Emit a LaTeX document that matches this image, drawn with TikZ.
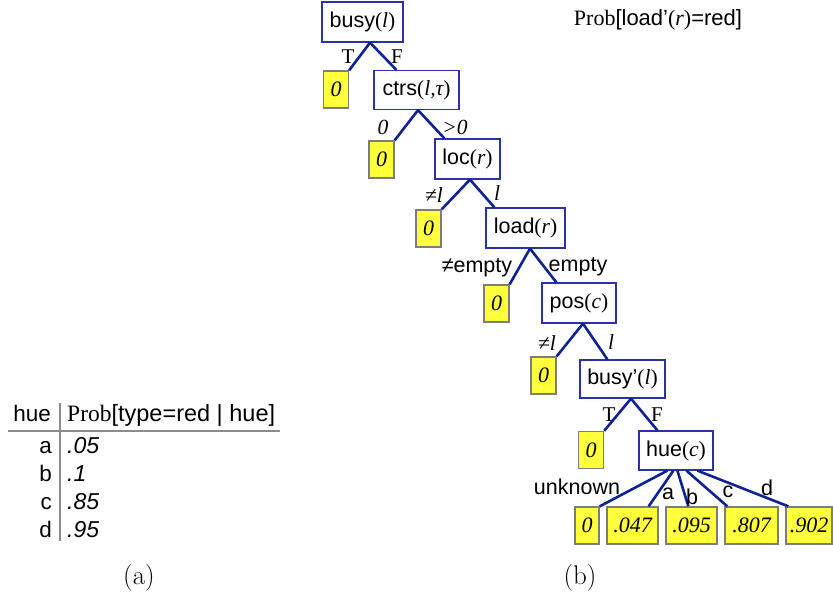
\documentclass[tikz,border=0pt]{standalone}
\usepackage{fontspec}
\newfontfamily\tmsf{Liberation Serif}
\newfontfamily\helf{Liberation Sans}
\usetikzlibrary{calc}
\definecolor{eblue}{RGB}{14,34,150}
\definecolor{bblue}{RGB}{40,52,165}
\definecolor{lyellow}{RGB}{255,255,60}
\definecolor{lgray}{RGB}{125,125,125}
\definecolor{rulegray}{RGB}{140,140,140}
\newcommand\targ[1]{{\tmsf(\itshape #1\upshape)}}
\tikzset{
  inode/.style={draw=bblue, line width=1.2pt, fill=white, minimum height=40pt, inner sep=0pt, font=\helf\fontsize{21.5}{21.5}\selectfont},
  leaf/.style={draw=lgray, line width=1.3pt, fill=lyellow, minimum width=25pt, minimum height=37pt, inner sep=0pt, font=\tmsf\itshape\fontsize{22}{22}\selectfont},
  edge/.style={draw=eblue, line width=2.6pt},
  tlab/.style={inner sep=0pt, font=\tmsf\fontsize{21}{21}\selectfont},
  tilab/.style={inner sep=0pt, font=\tmsf\itshape\fontsize{21.5}{21.5}\selectfont},
  slab/.style={inner sep=0pt, font=\helf\fontsize{21.5}{21.5}\selectfont},
  ttext/.style={inner sep=0pt, font=\helf\fontsize{22.5}{22.5}\selectfont},
  tval/.style={inner sep=0pt, font=\helf\itshape\fontsize{23}{23}\selectfont},
  trule/.style={draw=rulegray, line width=2.4pt},
  caption/.style={inner sep=0pt, font=\fontsize{27}{27}\selectfont}
}
\begin{document}
\begin{tikzpicture}[x=1pt,y=-1pt]
\useasboundingbox (0,0) rectangle (833,598);

% title
\node[inner sep=0pt] (title) at (658,20) {{\tmsf\fontsize{22}{22}\selectfont Prob}{\helf\fontsize{22}{22}\selectfont[load’}{\tmsf\fontsize{22}{22}\selectfont(\itshape r\upshape)}{\helf\fontsize{22}{22}\selectfont=red]}};

% internal nodes
\node[inode, minimum width=81pt, minimum height=40pt] (busy) at (362.5,22) {busy\targ{l}};
\node[inode, minimum width=85pt, minimum height=39pt] (ctrs) at (416.5,90) {ctrs\targ{l,τ}};
\node[inode, minimum width=65pt] (loc) at (467.5,159) {loc\targ{r}};
\node[inode, minimum width=79pt] (load) at (525.5,228) {load\targ{r}};
\node[inode, minimum width=74pt] (pos) at (579,303) {pos\targ{c}};
\node[inode, minimum width=85pt, minimum height=38pt] (busyp) at (622.5,379) {busy’\targ{l}};
\node[inode, minimum width=74pt, minimum height=39pt] (hue) at (676,450.5) {hue\targ{c}};

% leaves
\node[leaf] (L1) at (336,89.5) {0};
\node[leaf] (L2) at (381.5,159.5) {0};
\node[leaf] (L3) at (428.5,228.5) {0};
\node[leaf] (L4) at (496.5,303.5) {0};
\node[leaf] (L5) at (543.5,375.5) {0};
\node[leaf] (L6) at (591,450) {0};
\node[leaf, minimum width=24pt] (L7) at (587,525.5) {0};
\node[leaf, minimum width=51pt] (L8) at (632.5,525.5) {.047};
\node[leaf, minimum width=51pt] (L9) at (691.5,525.5) {.095};
\node[leaf, minimum width=53pt] (L10) at (751.5,525.5) {.807};
\node[leaf, minimum width=46pt] (L11) at (809,525.5) {.902};

% edges
\draw[edge] ($(busy.south)+(7.5,0)$) -- (L1.north east);
\draw[edge] ($(busy.south)+(7.5,0)$) -- ($(ctrs.north west)+(23,0)$);
\draw[edge] ($(ctrs.south)+(1.5,0)$) -- (L2.north east);
\draw[edge] ($(ctrs.south)+(1.5,0)$) -- ($(loc.north west)+(10,0)$);
\draw[edge] ($(loc.south)+(2.5,0)$) -- (L3.north east);
\draw[edge] ($(loc.south)+(2.5,0)$) -- ($(load.north west)+(9,0)$);
\draw[edge] ($(load.south)+(4.5,0)$) -- (L4.north east);
\draw[edge] ($(load.south)+(4.5,0)$) -- ($(pos.north west)+(15,0)$);
\draw[edge] ($(pos.south)+(4,0)$) -- (L5.north east);
\draw[edge] ($(pos.south)+(4,0)$) -- ($(busyp.north west)+(28,0)$);
\draw[edge] ($(busyp.south)+(8.5,0)$) -- (L6.north east);
\draw[edge] ($(busyp.south)+(8.5,0)$) -- ($(hue.north west)+(19,0)$);
\draw[edge] ($(hue.south west)+(29,0)$) -- (L7.north east);
\draw[edge] ($(hue.south west)+(35,0)$) -- ($(L8.north east)+(-10,0)$);
\draw[edge] ($(hue.south west)+(39,0)$) -- ($(L9.north west)+(23,0)$);
\draw[edge] ($(hue.south west)+(48,0)$) -- ($(L10.north west)+(3,0)$);
\draw[edge] ($(hue.south west)+(59,0)$) -- ($(L11.north west)+(3,0)$);

% branch labels
\node[tlab] (bT) at (348,57) {T};
\node[tlab] (bF) at (397,57) {F};
\node[tilab] (c0) at (383,127) {0};
\node[tilab] (cg) at (455,127) {>0};
\node[tilab] (lne) at (434,195) {≠l};
\node[tilab] (leq) at (497,193) {l};
\node[slab] (dne) at (477,268) {≠empty};
\node[slab] (deq) at (578,267) {empty};
\node[tilab] (pne) at (547,343) {≠l};
\node[tilab] (peq) at (611,342) {l};
\node[tlab] (hT) at (609,415) {T};
\node[tlab] (hF) at (657,415) {F};
\node[slab] (hu) at (577,487) {unknown};
\node[slab] (ha) at (668,494) {a};
\node[slab] (hb) at (692,497) {b};
\node[slab] (hc) at (728,492) {c};
\node[slab] (hd) at (767,488) {d};

% table (a)
\coordinate (vt) at (60,403);
\coordinate (vb) at (60,541);
\coordinate (hl) at (8,431);
\coordinate (hr) at (280,431);
\draw[trule] (vt) -- (vb);
\draw[trule] (hl) -- (hr);
\node[ttext, anchor=base east] (thue) at (51,421.5) {hue};
\node[ttext, anchor=base west, font=\helf\fontsize{23.5}{23.5}\selectfont] (tprob) at (67,421.5) {{\tmsf Prob}[type=red | hue]};
\node[ttext, anchor=base east] (ra) at (52,453) {a};
\node[ttext, anchor=base east] (rb) at (52,481) {b};
\node[ttext, anchor=base east] (rc) at (52,509) {c};
\node[ttext, anchor=base east] (rd) at (52,537) {d};
\node[tval, anchor=base west] (va) at (67,453) {.05};
\node[tval, anchor=base west] (vb2) at (67,481) {.1};
\node[tval, anchor=base west] (vc) at (67,509) {.85};
\node[tval, anchor=base west] (vd) at (67,537) {.95};

% captions
\node[caption] (capa) at (139,578) {(a)};
\node[caption] (capb) at (580,578) {(b)};
\end{tikzpicture}
\end{document}
